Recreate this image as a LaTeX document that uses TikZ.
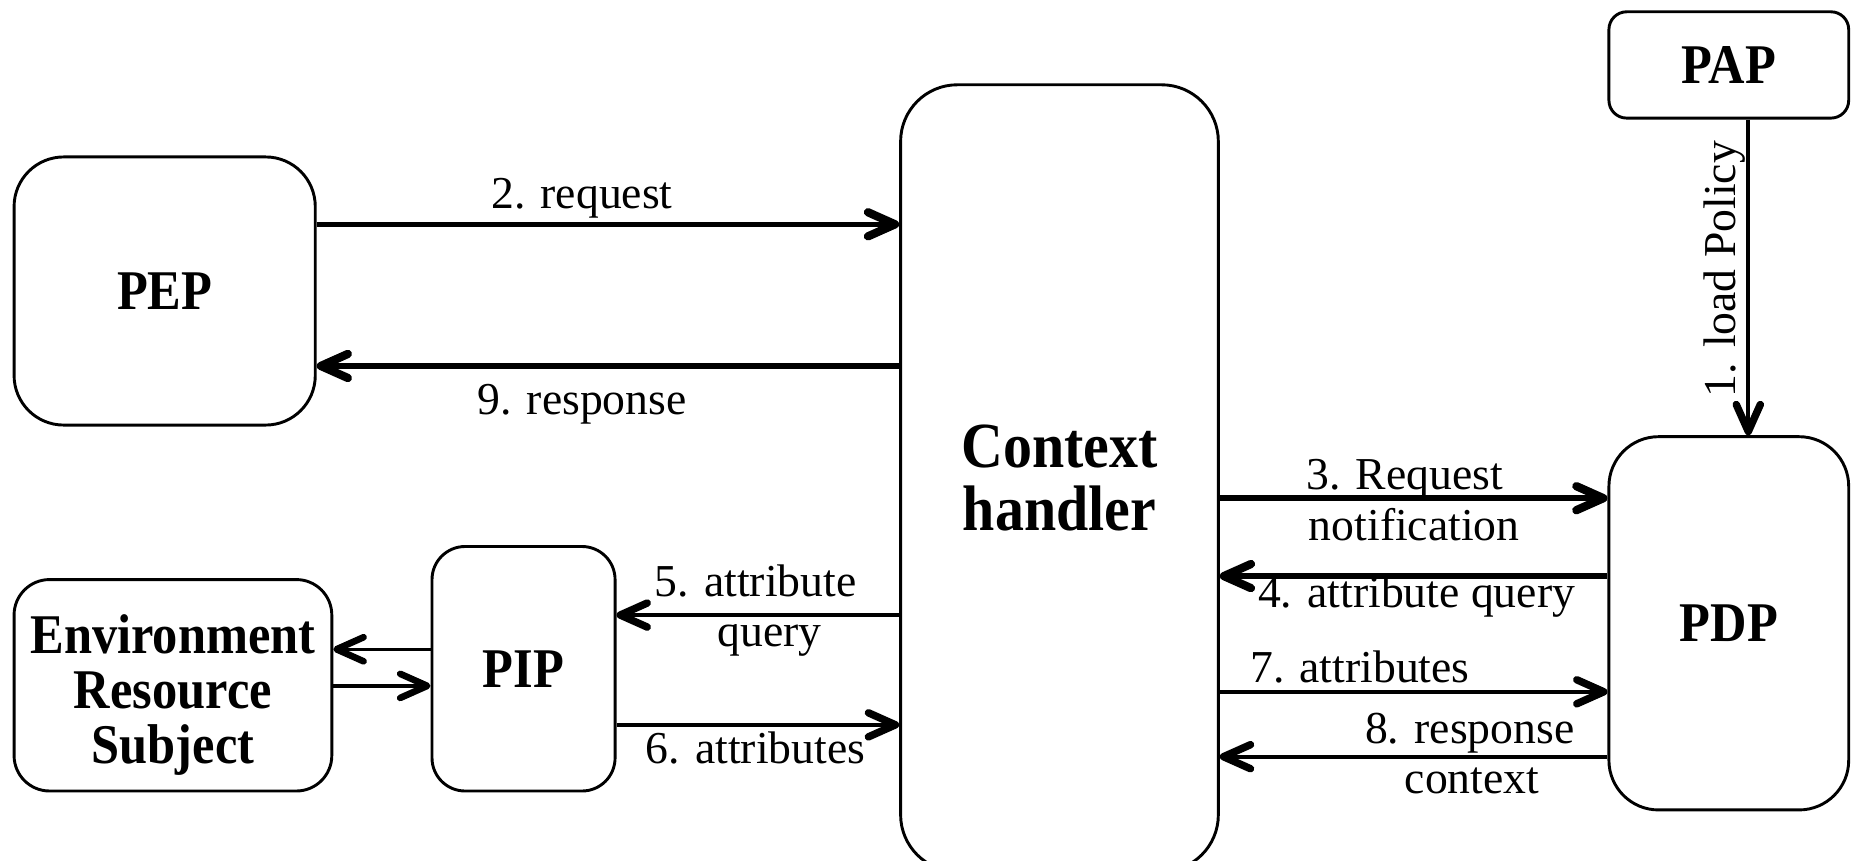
\documentclass[tikz,border=0pt]{standalone}
\usepackage{fontspec}
\setmainfont{Liberation Serif}
\newfontfamily\boxfont{Liberation Serif}[FakeStretch=0.9]
\usetikzlibrary{arrows.meta}
\tikzset{
  box/.style={draw, line width=0.7pt, inner sep=0pt, align=center,
    font=\boxfont\bfseries\fontsize{13.5}{13.2}\selectfont},
  lbl/.style={inner sep=0pt, font=\fontsize{11}{13}\selectfont},
  thickarrow/.style={-{Straight Barb[length=6.5pt,width=5.8pt,line width=2.0pt,round]}, line width=1.3pt},
  midarrow/.style={-{Straight Barb[length=6.5pt,width=5.8pt,line width=1.8pt,round]}, line width=1.05pt},
  thinarrow/.style={-{Straight Barb[length=6.5pt,width=5.8pt,line width=1.6pt,round]}, line width=0.85pt},
}
\begin{document}
\begin{tikzpicture}[x=0.01cm,y=-0.01cm]
\useasboundingbox (0,0) rectangle (1568,729);
\clip (0,0) rectangle (1568,729);

% boxes
\node[box, minimum width=2.55cm, minimum height=2.27cm, rounded corners=0.42cm] (PEP) at (139.5,246.5) {PEP};
\node[box, minimum width=2.03cm, minimum height=0.90cm, rounded corners=0.15cm] (PAP) at (1464.5,55) {PAP};
\node[box, minimum width=2.69cm, minimum height=6.66cm, rounded corners=0.48cm,
      font=\boxfont\bfseries\fontsize{15.5}{15.1}\selectfont] (CH) at (897.5,405) {Context\\handler};
\node[box, minimum width=2.03cm, minimum height=3.16cm, rounded corners=0.42cm] (PDP) at (1464.5,528) {PDP};
\node[box, minimum width=1.55cm, minimum height=2.07cm, rounded corners=0.28cm] (PIP) at (443.5,566.5) {PIP};
\node[box, minimum width=2.69cm, minimum height=1.79cm, rounded corners=0.30cm] (ENV) at (146.5,580.5) {\rule{0pt}{14pt}Environment\\Resource\\Subject};

% helper coordinates
\coordinate (y2) at (0,190);
\coordinate (y9) at (0,310);
\coordinate (y3) at (0,422);
\coordinate (y4) at (0,488);
\coordinate (y7) at (0,586);
\coordinate (y8) at (0,641);
\coordinate (y5) at (0,521);
\coordinate (y6) at (0,614);
\coordinate (ya) at (0,550);
\coordinate (yb) at (0,581);
\coordinate (xl) at (1481,0);

% connectors
\draw[thickarrow] (PEP.east |- y2) -- (CH.west |- y2);
\draw[thickarrow] (CH.west |- y9) -- (PEP.east |- y9);
\draw[midarrow] (PAP.south -| xl) -- (PDP.north -| xl);
\draw[thickarrow] (CH.east |- y3) -- (PDP.west |- y3);
\draw[thickarrow] (PDP.west |- y4) -- (CH.east |- y4);
\draw[midarrow] (CH.east |- y7) -- (PDP.west |- y7);
\draw[midarrow] (PDP.west |- y8) -- (CH.east |- y8);
\draw[midarrow] (CH.west |- y5) -- (PIP.east |- y5);
\draw[midarrow] (PIP.east |- y6) -- (CH.west |- y6);
\draw[thinarrow] (PIP.west |- ya) -- (ENV.east |- ya);
\draw[thinarrow] (ENV.east |- yb) -- (PIP.west |- yb);

% labels
\node[lbl, anchor=base] (L2) at (493,177) {2. request};
\node[lbl, anchor=base] (L9) at (493,351) {9. response};
\node[lbl, anchor=base, rotate=90] (L1) at (1470,228) {1. load Policy};
\node[lbl, anchor=base] (L3a) at (1190,415) {3. Request};
\node[lbl, anchor=base] (L3b) at (1198,458) {notification};
\node[lbl, anchor=base] (L4) at (1200,515) {4. attribute query};
\node[lbl, anchor=base] (L7) at (1152,578) {7. attributes};
\node[lbl, anchor=base] (L8a) at (1245,630) {8. response};
\node[lbl, anchor=base] (L8b) at (1247,672) {context};
\node[lbl, anchor=base] (L5a) at (640,505) {5. attribute};
\node[lbl, anchor=base] (L5b) at (652,548) {query};
\node[lbl, anchor=base] (L6) at (640,647) {6. attributes};
\end{tikzpicture}
\end{document}
